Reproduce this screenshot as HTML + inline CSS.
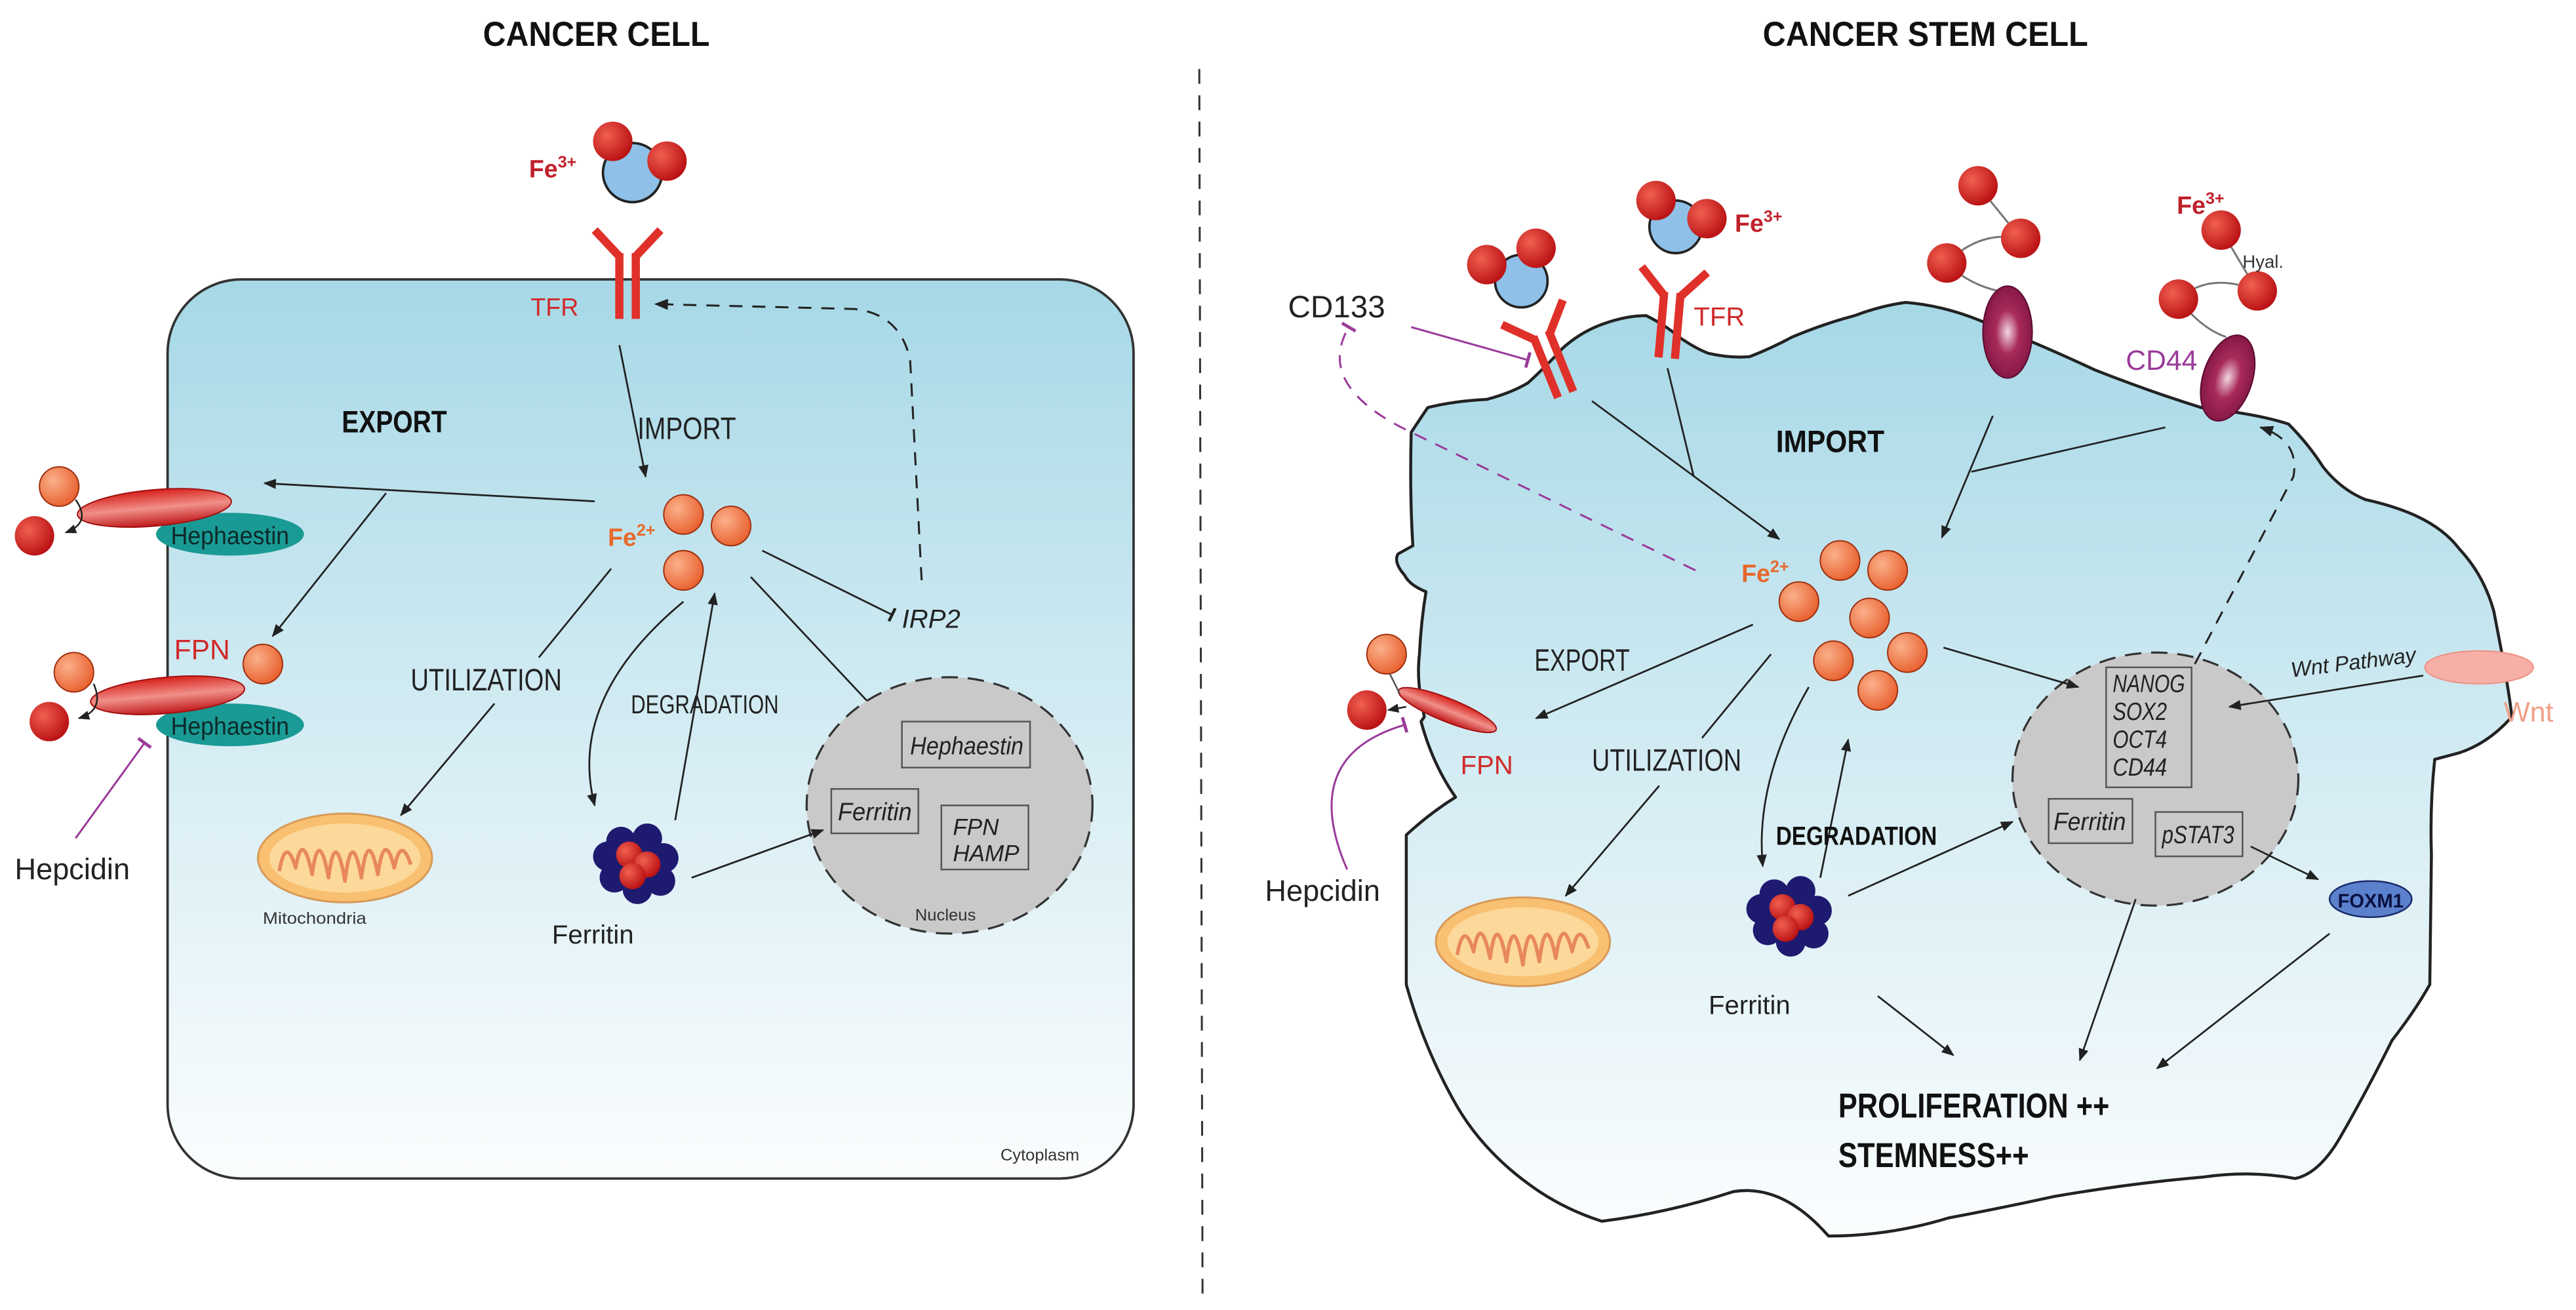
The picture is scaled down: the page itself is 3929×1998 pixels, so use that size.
<!DOCTYPE html>
<html><head><meta charset="utf-8"><style>
html,body{margin:0;padding:0;background:#fff}
svg{display:block}
text{font-family:"Liberation Sans",sans-serif}
</style></head><body>
<svg width="3929" height="1998" viewBox="0 0 1568 797" preserveAspectRatio="none" xmlns="http://www.w3.org/2000/svg">
<defs>
<linearGradient id="cg" x1="0" y1="0" x2="0" y2="1">
<stop offset="0" stop-color="#a6d8e6"/><stop offset="0.5" stop-color="#d4ecf3"/><stop offset="1" stop-color="#fbfdfe"/>
</linearGradient>
<radialGradient id="red" cx="0.35" cy="0.35" r="0.7"><stop offset="0" stop-color="#f06050"/><stop offset="1" stop-color="#b80f12"/></radialGradient>
<radialGradient id="org" cx="0.35" cy="0.35" r="0.7"><stop offset="0" stop-color="#fbb08a"/><stop offset="1" stop-color="#e8602e"/></radialGradient>
<radialGradient id="mag" cx="0.5" cy="0.5" r="0.6"><stop offset="0" stop-color="#f2d6e0"/><stop offset="0.4" stop-color="#a82a5a"/><stop offset="1" stop-color="#7a1240"/></radialGradient>
<linearGradient id="fpn" x1="0" y1="0" x2="0" y2="1"><stop offset="0" stop-color="#d8201c"/><stop offset="0.5" stop-color="#f09088"/><stop offset="1" stop-color="#c0181a"/></linearGradient>
<marker id="ar" viewBox="0 0 10 10" refX="9" refY="5" markerWidth="7" markerHeight="7" orient="auto"><path d="M0,1 L10,5 L0,9 Z" fill="#222"/></marker>
<marker id="tee" viewBox="0 0 10 10" refX="5" refY="5" markerWidth="8" markerHeight="8" orient="auto"><path d="M5,0 L5,10" stroke="#222" stroke-width="2"/></marker>
<marker id="teem" viewBox="0 0 10 10" refX="5" refY="5" markerWidth="8" markerHeight="8" orient="auto"><path d="M5,0 L5,10" stroke="#9a3a9a" stroke-width="2"/></marker>
<g id="ferr">
<circle cx="-10" cy="-12" r="9" fill="#1e1a70"/><circle cx="6" cy="-14" r="9" fill="#1e1a70"/><circle cx="16" cy="-2" r="9" fill="#1e1a70"/><circle cx="14" cy="12" r="9" fill="#1e1a70"/><circle cx="0" cy="17" r="9" fill="#1e1a70"/><circle cx="-14" cy="10" r="9" fill="#1e1a70"/><circle cx="-18" cy="-3" r="9" fill="#1e1a70"/>
<circle cx="-5" cy="-4" r="8" fill="url(#red)"/><circle cx="6" cy="2" r="8" fill="url(#red)"/><circle cx="-3" cy="9" r="8" fill="url(#red)"/>
</g>
<g id="mito">
<ellipse cx="0" cy="0" rx="53" ry="27" fill="#f8c070" stroke="#d89a58" stroke-width="1.2"/>
<ellipse cx="0" cy="0" rx="46" ry="21" fill="#fcd89a"/>
<path d="M-40,8 Q-36,-14 -30,6 Q-26,-18 -20,10 Q-16,-20 -10,12 Q-6,-20 0,14 Q4,-20 10,12 Q14,-20 20,10 Q24,-18 30,6 Q34,-14 40,4" fill="none" stroke="#e8885a" stroke-width="2.2" stroke-linejoin="round"/>
</g>
<g id="yr">
<path d="M-5,0 L-5,40 M5,0 L5,40 M-5,2 L-20,-14 M5,2 L20,-14" stroke="#e0302a" stroke-width="5" fill="none"/>
</g>
</defs>

<!-- titles -->
<text x="363" y="28" font-size="21" font-weight="bold" text-anchor="middle" fill="#111" textLength="138" lengthAdjust="spacingAndGlyphs">CANCER CELL</text>
<text x="1172" y="28" font-size="21" font-weight="bold" text-anchor="middle" fill="#111" textLength="198" lengthAdjust="spacingAndGlyphs">CANCER STEM CELL</text>
<line x1="730" y1="42" x2="732" y2="792" stroke="#333" stroke-width="1.2" stroke-dasharray="9,7"/>

<!-- LEFT CELL -->
<rect x="102" y="170" width="588" height="547" rx="45" fill="url(#cg)" stroke="#333" stroke-width="1.5"/>
<text x="609" y="706" font-size="10" fill="#333" textLength="48" lengthAdjust="spacingAndGlyphs">Cytoplasm</text>

<text x="322" y="108" font-size="15" font-weight="bold" fill="#c0202a">Fe<tspan font-size="10" dy="-6">3+</tspan></text>
<circle cx="385" cy="105" r="18" fill="#8ec0e8" stroke="#222" stroke-width="1.5"/>
<circle cx="373" cy="86" r="12" fill="url(#red)"/><circle cx="406" cy="98" r="12" fill="url(#red)"/>
<use href="#yr" x="382" y="154"/>
<text x="323" y="192" font-size="15" fill="#d02a2a">TFR</text>
<path d="M561,353 L554,219 Q548,191 520,188 L399,185" fill="none" stroke="#222" stroke-width="1.2" stroke-dasharray="8,6" marker-end="url(#ar)"/>

<line x1="377" y1="210" x2="393" y2="290" stroke="#222" stroke-width="1.1" marker-end="url(#ar)"/>
<text x="388" y="267" font-size="19" fill="#222" textLength="60" lengthAdjust="spacingAndGlyphs">IMPORT</text>
<text x="208" y="263" font-size="19" font-weight="bold" fill="#111" textLength="64" lengthAdjust="spacingAndGlyphs">EXPORT</text>

<line x1="362" y1="305" x2="161" y2="294" stroke="#222" stroke-width="1.1" marker-end="url(#ar)"/>
<line x1="235" y1="300" x2="166" y2="387" stroke="#222" stroke-width="1.1" marker-end="url(#ar)"/>

<text x="370" y="332" font-size="15" font-weight="bold" fill="#e8682a">Fe<tspan font-size="10" dy="-6">2+</tspan></text>
<circle cx="416" cy="313" r="12" fill="url(#org)" stroke="#a03010" stroke-width="0.8"/>
<circle cx="445" cy="320" r="12" fill="url(#org)" stroke="#a03010" stroke-width="0.8"/>
<circle cx="416" cy="347" r="12" fill="url(#org)" stroke="#a03010" stroke-width="0.8"/>

<!-- FPN top -->
<ellipse cx="140" cy="325" rx="45" ry="13" fill="#1a9a94"/>
<ellipse cx="94" cy="309" rx="47" ry="11" fill="url(#fpn)" transform="rotate(-5 94 309)" stroke="#a01010" stroke-width="0.8"/>
<text x="140" y="331" font-size="15" text-anchor="middle" fill="#0d2a2a" textLength="72" lengthAdjust="spacingAndGlyphs">Hephaestin</text>
<circle cx="36" cy="296" r="12" fill="url(#org)" stroke="#a03010" stroke-width="0.8"/>
<circle cx="21" cy="326" r="12" fill="url(#red)"/>
<path d="M46,304 Q56,318 40,324" fill="none" stroke="#222" stroke-width="1" marker-end="url(#ar)"/>
<!-- FPN bottom -->
<text x="106" y="401" font-size="17" fill="#d02a2a">FPN</text>
<circle cx="160" cy="404" r="12" fill="url(#org)" stroke="#a03010" stroke-width="0.8"/>
<ellipse cx="140" cy="441" rx="45" ry="13" fill="#1a9a94"/>
<ellipse cx="102" cy="423" rx="47" ry="11" fill="url(#fpn)" transform="rotate(-5 102 423)" stroke="#a01010" stroke-width="0.8"/>
<text x="140" y="447" font-size="15" text-anchor="middle" fill="#0d2a2a" textLength="72" lengthAdjust="spacingAndGlyphs">Hephaestin</text>
<circle cx="45" cy="409" r="12" fill="url(#org)" stroke="#a03010" stroke-width="0.8"/>
<circle cx="30" cy="439" r="12" fill="url(#red)"/>
<path d="M57,416 Q64,432 48,437" fill="none" stroke="#222" stroke-width="1" marker-end="url(#ar)"/>
<text x="9" y="535" font-size="18" fill="#222">Hepcidin</text>
<line x1="46" y1="510" x2="88" y2="452" stroke="#9a3a9a" stroke-width="1.2" marker-end="url(#teem)"/>

<!-- utilization -->
<text x="250" y="420" font-size="19" fill="#222" textLength="92" lengthAdjust="spacingAndGlyphs">UTILIZATION</text>
<line x1="372" y1="346" x2="328" y2="400" stroke="#222" stroke-width="1.1"/>
<line x1="301" y1="428" x2="244" y2="496" stroke="#222" stroke-width="1.1" marker-end="url(#ar)"/>
<use href="#mito" x="210" y="522"/>
<text x="160" y="562" font-size="10" fill="#333" textLength="63" lengthAdjust="spacingAndGlyphs">Mitochondria</text>

<!-- ferritin -->
<use href="#ferr" x="388" y="524"/>
<text x="336" y="574" font-size="16" fill="#222">Ferritin</text>
<path d="M416,366 Q345,425 362,490" fill="none" stroke="#222" stroke-width="1.1" marker-end="url(#ar)"/>
<line x1="411" y1="499" x2="435" y2="361" stroke="#222" stroke-width="1.1" marker-end="url(#ar)"/>
<text x="384" y="434" font-size="16" fill="#222" textLength="90" lengthAdjust="spacingAndGlyphs">DEGRADATION</text>
<line x1="464" y1="335" x2="543" y2="374" stroke="#222" stroke-width="1.1" marker-end="url(#tee)"/>
<text x="549" y="382" font-size="16" font-style="italic" fill="#222">IRP2</text>
<line x1="457" y1="351" x2="533" y2="432" stroke="#222" stroke-width="1.1" marker-end="url(#ar)"/>

<!-- nucleus left -->
<ellipse cx="578" cy="490" rx="87" ry="78" fill="#c9c9c9" stroke="#333" stroke-width="1.3" stroke-dasharray="10,6"/>
<rect x="549" y="439" width="78" height="28" fill="none" stroke="#555"/>
<text x="554" y="459" font-size="15" font-style="italic" fill="#222" textLength="69" lengthAdjust="spacingAndGlyphs">Hephaestin</text>
<rect x="506" y="480" width="53" height="27" fill="none" stroke="#555"/>
<text x="510" y="499" font-size="15" font-style="italic" fill="#222" textLength="45" lengthAdjust="spacingAndGlyphs">Ferritin</text>
<rect x="573" y="490" width="53" height="39" fill="none" stroke="#555"/>
<text x="580" y="508" font-size="14" font-style="italic" fill="#222">FPN</text>
<text x="580" y="524" font-size="14" font-style="italic" fill="#222">HAMP</text>
<text x="557" y="560" font-size="10" fill="#333" textLength="37" lengthAdjust="spacingAndGlyphs">Nucleus</text>
<line x1="421" y1="534" x2="501" y2="505" stroke="#222" stroke-width="1.1" marker-end="url(#ar)"/>

<!-- RIGHT CELL -->
<path d="M859,263 L869,248 Q885,244 905,243 Q920,239 930,233 Q942,222 951,212 Q962,202 976,197 Q990,192 1002,192 Q1014,198 1022,205 Q1032,212 1040,215 Q1053,218 1065,217 Q1078,212 1091,205 Q1110,197 1129,192 Q1145,186 1160,184 Q1185,186 1210,197 Q1243,210 1275,225 Q1308,238 1340,248 Q1375,252 1393,258 Q1405,270 1414,284 Q1425,298 1440,304 Q1458,308 1471,314 Q1488,322 1497,334 Q1512,350 1518,372 L1523,398 Q1527,420 1529,436 Q1515,452 1497,458 L1482,462 Q1479,490 1480,520 L1479,599 Q1470,615 1456,633 Q1440,665 1425,691 Q1412,714 1397,717 Q1370,712 1342,716 Q1296,720 1250,728 Q1218,735 1186,741 Q1150,752 1113,752 Q1085,720 1055,725 Q1015,738 975,743 Q950,735 930,720 Q900,698 884,668 Q866,635 856,599 L856,508 Q870,495 886,485 Q872,465 865,439 L867,436 Q862,415 864,398 Q865,378 868,360 Q858,356 855,350 Q848,342 851,337 L860,332 Q858,300 859,263 Z" fill="url(#cg)" stroke="#222" stroke-width="1.8" stroke-linejoin="round"/>

<!-- TFR1 -->
<g transform="translate(938,203) rotate(-22)"><use href="#yr" x="0" y="0"/></g>
<circle cx="926" cy="171" r="16" fill="#8ec0e8" stroke="#222" stroke-width="1.5"/>
<circle cx="905" cy="161" r="12" fill="url(#red)"/><circle cx="935" cy="151" r="12" fill="url(#red)"/>
<!-- TFR2 -->
<g transform="translate(1018,178) rotate(5)"><use href="#yr" x="0" y="0"/></g>
<circle cx="1020" cy="138" r="16" fill="#8ec0e8" stroke="#222" stroke-width="1.5"/>
<circle cx="1008" cy="122" r="12" fill="url(#red)"/><circle cx="1039" cy="133" r="12" fill="url(#red)"/>
<text x="1056" y="141" font-size="15" font-weight="bold" fill="#c0202a">Fe<tspan font-size="10" dy="-6">3+</tspan></text>
<text x="1031" y="198" font-size="16" fill="#d02a2a">TFR</text>

<text x="784" y="193" font-size="19" fill="#222">CD133</text>
<line x1="859" y1="199" x2="930" y2="219" stroke="#9a3a9a" stroke-width="1.2" marker-end="url(#teem)"/>
<path d="M1032,347 L859,263 Q800,235 821,199" fill="none" stroke="#9a3a9a" stroke-width="1.2" stroke-dasharray="8,6" marker-end="url(#teem)"/>

<!-- CD44 -->
<path d="M1204,113 L1230,145 M1185,160 Q1205,140 1230,145 M1185,160 Q1200,175 1222,178" fill="none" stroke="#777" stroke-width="1.2"/>
<circle cx="1204" cy="113" r="12" fill="url(#red)"/><circle cx="1230" cy="145" r="12" fill="url(#red)"/><circle cx="1185" cy="160" r="12" fill="url(#red)"/>
<ellipse cx="1222" cy="202" rx="15" ry="28" fill="url(#mag)" stroke="#5a0a30" stroke-width="0.8"/>
<path d="M1352,140 L1374,177 M1326,182 Q1345,165 1374,177 M1326,182 Q1340,200 1355,205" fill="none" stroke="#777" stroke-width="1.2"/>
<circle cx="1352" cy="140" r="12" fill="url(#red)"/><circle cx="1326" cy="182" r="12" fill="url(#red)"/><circle cx="1374" cy="177" r="12" fill="url(#red)"/>
<ellipse cx="1356" cy="230" rx="15" ry="27" fill="url(#mag)" stroke="#5a0a30" stroke-width="0.8" transform="rotate(18 1356 230)"/>
<text x="1325" y="130" font-size="15" font-weight="bold" fill="#c0202a">Fe<tspan font-size="10" dy="-6">3+</tspan></text>
<text x="1365" y="163" font-size="11" fill="#333">Hyal.</text>
<text x="1294" y="225" font-size="17" fill="#9a3a9a">CD44</text>

<text x="1081" y="275" font-size="19" font-weight="bold" fill="#111" textLength="66" lengthAdjust="spacingAndGlyphs">IMPORT</text>
<line x1="969" y1="244" x2="1083" y2="328" stroke="#222" stroke-width="1.1" marker-end="url(#ar)"/>
<line x1="1015" y1="224" x2="1031" y2="290" stroke="#222" stroke-width="1.1"/>
<line x1="1213" y1="253" x2="1182" y2="327" stroke="#222" stroke-width="1.1" marker-end="url(#ar)"/>
<line x1="1318" y1="260" x2="1200" y2="287" stroke="#222" stroke-width="1.1"/>

<text x="1060" y="354" font-size="15" font-weight="bold" fill="#e8682a">Fe<tspan font-size="10" dy="-6">2+</tspan></text>
<g fill="url(#org)" stroke="#a03010" stroke-width="0.8">
<circle cx="1120" cy="341" r="12"/><circle cx="1149" cy="347" r="12"/><circle cx="1095" cy="366" r="12"/><circle cx="1138" cy="376" r="12"/><circle cx="1161" cy="397" r="12"/><circle cx="1116" cy="402" r="12"/><circle cx="1143" cy="420" r="12"/>
</g>

<text x="934" y="408" font-size="19" fill="#222" textLength="58" lengthAdjust="spacingAndGlyphs">EXPORT</text>
<line x1="1067" y1="380" x2="935" y2="437" stroke="#222" stroke-width="1.1" marker-end="url(#ar)"/>
<ellipse cx="881" cy="432" rx="32" ry="7" fill="url(#fpn)" stroke="#a01010" stroke-width="0.8" transform="rotate(22 881 432)"/>
<circle cx="844" cy="398" r="12" fill="url(#org)" stroke="#a03010" stroke-width="0.8"/>
<circle cx="832" cy="432" r="12" fill="url(#red)"/>
<line x1="846" y1="410" x2="852" y2="422" stroke="#555" stroke-width="1"/>
<line x1="856" y1="430" x2="845" y2="432" stroke="#222" stroke-width="1" marker-end="url(#ar)"/>
<text x="889" y="471" font-size="16" fill="#d02a2a">FPN</text>
<text x="770" y="548" font-size="18" fill="#222">Hepcidin</text>
<path d="M820,529 Q790,460 855,441" fill="none" stroke="#9a3a9a" stroke-width="1.2" marker-end="url(#teem)"/>

<text x="969" y="469" font-size="19" fill="#222" textLength="91" lengthAdjust="spacingAndGlyphs">UTILIZATION</text>
<line x1="1078" y1="398" x2="1036" y2="449" stroke="#222" stroke-width="1.1"/>
<line x1="1010" y1="478" x2="953" y2="545" stroke="#222" stroke-width="1.1" marker-end="url(#ar)"/>
<use href="#mito" x="927" y="573"/>

<use href="#ferr" x="1090" y="556"/>
<text x="1040" y="617" font-size="16" fill="#222">Ferritin</text>
<path d="M1101,418 Q1068,475 1073,527" fill="none" stroke="#222" stroke-width="1.1" marker-end="url(#ar)"/>
<line x1="1108" y1="534" x2="1125" y2="450" stroke="#222" stroke-width="1.1" marker-end="url(#ar)"/>
<text x="1081" y="514" font-size="16" font-weight="bold" fill="#111" textLength="98" lengthAdjust="spacingAndGlyphs">DEGRADATION</text>

<!-- nucleus right -->
<ellipse cx="1312" cy="474" rx="87" ry="77" fill="#c9c9c9" stroke="#333" stroke-width="1.3" stroke-dasharray="10,6"/>
<rect x="1282" y="406" width="52" height="73" fill="none" stroke="#555"/>
<g font-size="15" font-style="italic" fill="#222">
<text x="1286" y="421" textLength="44" lengthAdjust="spacingAndGlyphs">NANOG</text><text x="1286" y="438" textLength="33" lengthAdjust="spacingAndGlyphs">SOX2</text><text x="1286" y="455" textLength="33" lengthAdjust="spacingAndGlyphs">OCT4</text><text x="1286" y="472" textLength="33" lengthAdjust="spacingAndGlyphs">CD44</text>
</g>
<rect x="1247" y="486" width="51" height="27" fill="none" stroke="#555"/>
<text x="1250" y="505" font-size="15" font-style="italic" fill="#222" textLength="44" lengthAdjust="spacingAndGlyphs">Ferritin</text>
<rect x="1312" y="494" width="53" height="27" fill="none" stroke="#555"/>
<text x="1316" y="513" font-size="15" font-style="italic" fill="#222" textLength="44" lengthAdjust="spacingAndGlyphs">pSTAT3</text>
<line x1="1183" y1="394" x2="1265" y2="418" stroke="#222" stroke-width="1.1" marker-end="url(#ar)"/>
<path d="M1336,404 L1396,290 Q1400,268 1376,260" fill="none" stroke="#222" stroke-width="1.2" stroke-dasharray="8,6" marker-end="url(#ar)"/>
<line x1="1125" y1="545" x2="1225" y2="500" stroke="#222" stroke-width="1.1" marker-end="url(#ar)"/>

<ellipse cx="1509" cy="406" rx="33" ry="10" fill="#f6b0a8" stroke="#f09080" stroke-width="0.8"/>
<text x="1524" y="439" font-size="17" fill="#f0a088">Wnt</text>
<text x="1395" y="412" font-size="13" font-style="italic" fill="#222" transform="rotate(-7 1395 412)">Wnt Pathway</text>
<line x1="1475" y1="411" x2="1357" y2="430" stroke="#222" stroke-width="1.1" marker-end="url(#ar)"/>

<line x1="1370" y1="515" x2="1411" y2="535" stroke="#222" stroke-width="1.1" marker-end="url(#ar)"/>
<ellipse cx="1443" cy="547" rx="25" ry="11" fill="#5b80cc" stroke="#1a2a6a" stroke-width="1"/>
<text x="1443" y="552" font-size="12" font-weight="bold" text-anchor="middle" fill="#0a1040" textLength="40" lengthAdjust="spacingAndGlyphs">FOXM1</text>

<line x1="1143" y1="606" x2="1189" y2="642" stroke="#222" stroke-width="1.1" marker-end="url(#ar)"/>
<line x1="1300" y1="547" x2="1266" y2="645" stroke="#222" stroke-width="1.1" marker-end="url(#ar)"/>
<line x1="1418" y1="568" x2="1313" y2="650" stroke="#222" stroke-width="1.1" marker-end="url(#ar)"/>
<text x="1119" y="680" font-size="21" font-weight="bold" fill="#111" textLength="165" lengthAdjust="spacingAndGlyphs">PROLIFERATION ++</text>
<text x="1119" y="710" font-size="21" font-weight="bold" fill="#111" textLength="116" lengthAdjust="spacingAndGlyphs">STEMNESS++</text>
</svg>
</body></html>
